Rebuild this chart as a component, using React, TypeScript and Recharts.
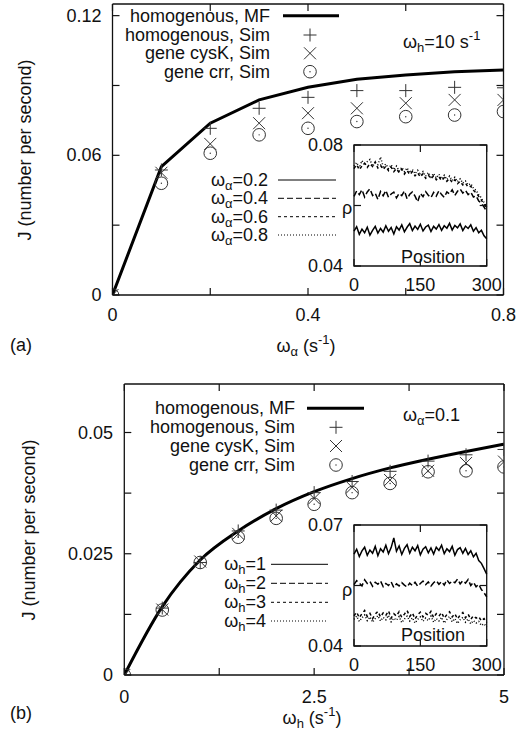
import React from "react";
import {
  ComposedChart,
  LineChart,
  Line,
  Scatter,
  XAxis,
  YAxis,
  ReferenceArea,
  Legend,
} from "recharts";

const FONT = '"Liberation Sans", Arial, Helvetica, sans-serif';
const INK = "#111";
const MARK = "#333";
const W = 532;

// panel (a): omega_h = 10 s^-1, flux vs omega_alpha
const omegaAlpha = [0, 0.1, 0.2, 0.3, 0.4, 0.5, 0.6, 0.7, 0.8];
const mfA = [0, 0.0551, 0.0738, 0.0838, 0.0892, 0.0927, 0.0945, 0.0959, 0.0967];
const homSimA = [0, 0.0537, 0.0716, 0.0802, 0.0849, 0.0878, 0.0878, 0.0892, 0.089];
const cysKA = [0, 0.0525, 0.0649, 0.0738, 0.0781, 0.0802, 0.0824, 0.0838, 0.0838];
const crrA = [0, 0.048, 0.0609, 0.0688, 0.0716, 0.0745, 0.0766, 0.0773, 0.0788];

// panel (b): omega_alpha = 0.1, flux vs omega_h
const omegaH = [0, 0.5, 1, 1.5, 2, 2.5, 3, 3.5, 4, 4.5, 5];
const mfB = [0, 0.0141, 0.0237, 0.0297, 0.0343, 0.0378, 0.0405, 0.0427, 0.0445, 0.0461, 0.0476];
const homSimB = [0, 0.0138, 0.0232, 0.0297, 0.034, 0.0376, 0.0399, 0.042, 0.0441, 0.0454, 0.0465];
const cysKB = [0, 0.0135, 0.0234, 0.0291, 0.0328, 0.0364, 0.0387, 0.0402, 0.0421, 0.0437, 0.044];
const crrB = [0, 0.0134, 0.0232, 0.0284, 0.0323, 0.0352, 0.0376, 0.0395, 0.0419, 0.0421, 0.0429];

const seriesNames = ["homogenous, MF", "homogenous, Sim", "gene cysK, Sim", "gene crr, Sim"];

// insets: density profile along the gene
const insetPos = [
  0, 6, 12, 18, 24, 30, 36, 42, 48, 54, 60, 66, 72, 78, 84, 90, 96, 102, 108, 114,
  120, 126, 132, 138, 144, 150, 156, 162, 168, 174, 180, 186, 192, 198, 204, 210,
  216, 222, 228, 234, 240, 246, 252, 258, 264, 270, 276, 282, 288, 294, 300,
];

const rhoA02 = [
  0.0515, 0.053, 0.0505, 0.0522, 0.051, 0.0528, 0.0502, 0.0518, 0.0531, 0.0509,
  0.0524, 0.0512, 0.0533, 0.0515, 0.0527, 0.0506, 0.053, 0.0519, 0.0536, 0.0513,
  0.0528, 0.054, 0.0517, 0.0532, 0.0521, 0.0538, 0.0516, 0.0529, 0.0535, 0.0514,
  0.0531, 0.0522, 0.0537, 0.0518, 0.0533, 0.0525, 0.0541, 0.0519, 0.0534, 0.0526,
  0.0539, 0.0517, 0.0532, 0.0524, 0.0536, 0.0515, 0.0527, 0.051, 0.0518, 0.05, 0.049,
];
const rhoA04 = [
  0.063, 0.0648, 0.0636, 0.0652, 0.0628, 0.0645, 0.0655, 0.0633, 0.0641, 0.062,
  0.0646, 0.0632, 0.065, 0.0627, 0.0638, 0.0644, 0.0625, 0.064, 0.0633, 0.0648,
  0.0622, 0.0637, 0.0645, 0.0631, 0.0612, 0.064, 0.0629, 0.0646, 0.0634, 0.0626,
  0.0643, 0.0631, 0.0649, 0.0636, 0.0627, 0.0645, 0.0638, 0.0652, 0.0633, 0.0647,
  0.0655, 0.0641, 0.065, 0.0636, 0.0644, 0.0628, 0.0632, 0.0615, 0.0608, 0.0595, 0.058,
];
const rhoA06 = [
  0.0722, 0.0735, 0.0718, 0.0731, 0.074, 0.0726, 0.0738, 0.0729, 0.0744, 0.0724,
  0.0733, 0.0719, 0.073, 0.0715, 0.0727, 0.0712, 0.0722, 0.0709, 0.072, 0.0704,
  0.0716, 0.0702, 0.0712, 0.0698, 0.0708, 0.0694, 0.0705, 0.069, 0.0701, 0.0688,
  0.0698, 0.0685, 0.0695, 0.0682, 0.0692, 0.068, 0.0689, 0.0676, 0.0685, 0.0672,
  0.068, 0.0668, 0.0674, 0.066, 0.0664, 0.065, 0.0642, 0.063, 0.0618, 0.0604, 0.059,
];
const rhoA08 = [
  0.073, 0.0742, 0.0725, 0.0748, 0.0733, 0.0745, 0.0752, 0.073, 0.0741, 0.0735,
  0.076, 0.0728, 0.0737, 0.0722, 0.0735, 0.0718, 0.073, 0.0714, 0.0726, 0.0712,
  0.0724, 0.0708, 0.0719, 0.0705, 0.0716, 0.0701, 0.0712, 0.0697, 0.0709, 0.0694,
  0.0706, 0.0691, 0.0703, 0.0688, 0.07, 0.0686, 0.0697, 0.0683, 0.0693, 0.0679,
  0.0688, 0.0674, 0.0681, 0.0668, 0.0672, 0.0657, 0.065, 0.0636, 0.0625, 0.061, 0.0595,
];

const rhoB1 = [
  0.0628, 0.064, 0.0622, 0.0636, 0.0645, 0.0625, 0.0638, 0.063, 0.0647, 0.0624,
  0.0641, 0.0633, 0.065, 0.0629, 0.0644, 0.0668, 0.0635, 0.0648, 0.0627, 0.0642,
  0.0651, 0.063, 0.0645, 0.0636, 0.0649, 0.0626, 0.064, 0.0646, 0.0631, 0.0643,
  0.0628, 0.0645, 0.0637, 0.065, 0.0629, 0.0641, 0.0634, 0.0647, 0.0625, 0.0639,
  0.0644, 0.063, 0.0642, 0.0627, 0.0636, 0.0621, 0.063, 0.0612, 0.0605, 0.0592, 0.0578,
];
const rhoB2 = [
  0.0552, 0.0562, 0.0556, 0.0549, 0.0564, 0.0555, 0.056, 0.0548, 0.0558, 0.0553,
  0.0561, 0.0547, 0.0555, 0.055, 0.0559, 0.0545, 0.0554, 0.0549, 0.0557, 0.0551,
  0.0546, 0.0556, 0.055, 0.0558, 0.0548, 0.0555, 0.0561, 0.0552, 0.0559, 0.0549,
  0.0557, 0.0562, 0.0553, 0.056, 0.0551, 0.0564, 0.0555, 0.0561, 0.0557, 0.0566,
  0.0554, 0.0562, 0.0556, 0.0565, 0.055, 0.0558, 0.0547, 0.0553, 0.054, 0.0532, 0.0522,
];
const rhoB3 = [
  0.0475, 0.0484, 0.047, 0.048, 0.0488, 0.0473, 0.0481, 0.0468, 0.0479, 0.0486,
  0.0472, 0.0482, 0.0476, 0.0487, 0.0469, 0.048, 0.0474, 0.0485, 0.0471, 0.0479,
  0.0488, 0.0473, 0.0482, 0.0467, 0.0478, 0.0484, 0.0472, 0.0481, 0.0476, 0.0486,
  0.047, 0.048, 0.0474, 0.0483, 0.0469, 0.0478, 0.0485, 0.0472, 0.048, 0.0467,
  0.0477, 0.0483, 0.047, 0.0479, 0.0466, 0.0475, 0.0469, 0.0473, 0.0462, 0.0468, 0.0458,
];
const rhoB4 = [
  0.0466, 0.0474, 0.0461, 0.047, 0.0477, 0.0463, 0.0472, 0.0459, 0.0468, 0.0475,
  0.0462, 0.0471, 0.0465, 0.0476, 0.046, 0.0469, 0.0464, 0.0473, 0.0458, 0.0467,
  0.0474, 0.0462, 0.047, 0.0457, 0.0466, 0.0472, 0.0461, 0.0469, 0.0463, 0.0474,
  0.0459, 0.0468, 0.0462, 0.0471, 0.0457, 0.0466, 0.0473, 0.046, 0.0468, 0.0456,
  0.0465, 0.0471, 0.0459, 0.0467, 0.0455, 0.0463, 0.0457, 0.0461, 0.0451, 0.0455, 0.0447,
];

const insetParamsA = ["0.2", "0.4", "0.6", "0.8"];
const insetParamsB = ["1", "2", "3", "4"];
const insetDashes = ["0", "6 3", "3 3", "1 2"];

type Box = { l: number; r: number; t: number; b: number };

// markers drawn the gnuplot way
const Plus = ({ cx, cy }: any) => (
  <path d={`M${cx - 6.5},${cy}h13M${cx},${cy - 6.5}v13`} stroke={MARK} strokeWidth={1} fill="none" />
);
const Cross = ({ cx, cy }: any) => (
  <path d={`M${cx - 6},${cy - 6}l12,12M${cx - 6},${cy + 6}l12,-12`} stroke={MARK} strokeWidth={1} fill="none" />
);
const Ring = ({ cx, cy }: any) => (
  <g>
    <circle cx={cx} cy={cy} r={6.3} stroke={MARK} strokeWidth={1} fill="none" />
    <circle cx={cx} cy={cy} r={0.7} fill={MARK} />
  </g>
);
const markers = [Plus, Cross, Ring];

const txt = { fontFamily: FONT, fontSize: 18, fill: INK } as const;
const frame = { stroke: INK, strokeWidth: 1.3 };
const noTick = () => <g />;

function MainLegend({ rowY, textRight, lineX, markX }: { rowY: number[]; textRight: number; lineX: [number, number]; markX: number }) {
  return (
    <svg width={W} height={400} style={{ position: "absolute", left: 0, top: 0, overflow: "visible" }}>
      {seriesNames.map((name, i) => (
        <g key={name}>
          <text x={textRight} y={rowY[i]} textAnchor="end" dominantBaseline="central" {...txt}>
            {name}
          </text>
          {i === 0 ? (
            <line x1={lineX[0]} x2={lineX[1]} y1={rowY[i]} y2={rowY[i]} stroke="#000" strokeWidth={3} />
          ) : (
            React.createElement(markers[i - 1], { cx: markX, cy: rowY[i] })
          )}
        </g>
      ))}
    </svg>
  );
}

function InsetLegend({ sym, params, rowY, textRight, lineX }: { sym: string; params: string[]; rowY: number[]; textRight: number; lineX: [number, number] }) {
  return (
    <svg width={W} height={400} style={{ position: "absolute", left: 0, top: 0, overflow: "visible" }}>
      {params.map((p, i) => (
        <g key={p}>
          <text x={textRight} y={rowY[i]} textAnchor="end" dominantBaseline="central" {...txt}>
            ω<tspan dy={5} fontSize={13}>{sym}</tspan>
            <tspan dy={-5}>={p}</tspan>
          </text>
          <line x1={lineX[0]} x2={lineX[1]} y1={rowY[i]} y2={rowY[i]} stroke="#000" strokeWidth={1} strokeDasharray={insetDashes[i]} />
        </g>
      ))}
    </svg>
  );
}

function MainPanel(props: {
  xs: number[]; mf: number[]; hom: number[]; cys: number[]; crr: number[];
  height: number; box: Box; curve: "linear" | "monotone";
  xDomain: [number, number]; xTicks: number[]; xLabels: string[];
  yDomain: [number, number]; yTicks: number[]; yLabels: string[];
  xLabelY: number; yLabelRight: number;
  legend: { rowY: number[]; textRight: number; lineX: [number, number]; markX: number };
}) {
  const { xs, box, height } = props;
  const rows = xs.map((x, i) => ({ x, mf: props.mf[i], hom: props.hom[i], cys: props.cys[i], crr: props.crr[i] }));

  const XTick = (p: any) => {
    const i = props.xTicks.indexOf(p.payload.value);
    return (
      <g>
        <line x1={p.x} x2={p.x} y1={box.b} y2={box.b - 7} stroke={INK} strokeWidth={1.2} />
        <line x1={p.x} x2={p.x} y1={box.t} y2={box.t + 7} stroke={INK} strokeWidth={1.2} />
        <text x={p.x} y={props.xLabelY} textAnchor="middle" dominantBaseline="central" {...txt}>
          {props.xLabels[i]}
        </text>
      </g>
    );
  };
  const YTick = (p: any) => {
    const i = props.yTicks.indexOf(p.payload.value);
    return (
      <g>
        <line x1={box.l} x2={box.l + 7} y1={p.y} y2={p.y} stroke={INK} strokeWidth={1.2} />
        <line x1={box.r} x2={box.r - 7} y1={p.y} y2={p.y} stroke={INK} strokeWidth={1.2} />
        <text x={props.yLabelRight} y={p.y} textAnchor="end" dominantBaseline="central" {...txt}>
          {props.yLabels[i]}
        </text>
      </g>
    );
  };

  return (
    <ComposedChart
      width={W}
      height={height}
      data={rows}
      margin={{ top: box.t - 1, right: W - box.r - 1, bottom: height - box.b - 1, left: box.l - 1 }}
    >
      <XAxis dataKey="x" type="number" domain={props.xDomain} ticks={props.xTicks} interval={0} height={1} axisLine={frame} tickLine={false} tick={XTick} allowDataOverflow />
      <XAxis xAxisId="top" orientation="top" type="number" domain={props.xDomain} ticks={props.xTicks} interval={0} height={1} axisLine={frame} tickLine={false} tick={noTick} allowDataOverflow />
      <YAxis type="number" domain={props.yDomain} ticks={props.yTicks} interval={0} width={1} axisLine={frame} tickLine={false} tick={YTick} allowDataOverflow />
      <YAxis yAxisId="right" orientation="right" type="number" domain={props.yDomain} ticks={props.yTicks} interval={0} width={1} axisLine={frame} tickLine={false} tick={noTick} allowDataOverflow />
      <Line dataKey="mf" name={seriesNames[0]} type={props.curve} stroke="#000" strokeWidth={3} dot={false} isAnimationActive={false} />
      <Scatter dataKey="hom" name={seriesNames[1]} shape={Plus} isAnimationActive={false} />
      <Scatter dataKey="cys" name={seriesNames[2]} shape={Cross} isAnimationActive={false} />
      <Scatter dataKey="crr" name={seriesNames[3]} shape={Ring} isAnimationActive={false} />
      <Legend
        verticalAlign="middle"
        align="center"
        layout="horizontal"
        wrapperStyle={{ left: 0, top: 0, width: W, height, pointerEvents: "none" }}
        content={() => <MainLegend {...props.legend} />}
      />
    </ComposedChart>
  );
}

function InsetPanel(props: {
  series: number[][]; height: number; box: Box;
  yDomain: [number, number]; yTicks: number[]; yLabels: string[];
  xLabelY: number;
  legend: { sym: string; params: string[]; rowY: number[]; textRight: number; lineX: [number, number] };
}) {
  const { box, height } = props;
  const rows = insetPos.map((x, i) => ({ x, s0: props.series[0][i], s1: props.series[1][i], s2: props.series[2][i], s3: props.series[3][i] }));
  const xTicks = [0, 150, 300];

  const XTick = (p: any) => (
    <g>
      <line x1={p.x} x2={p.x} y1={box.b} y2={box.b - 7} stroke={INK} strokeWidth={1.2} />
      <line x1={p.x} x2={p.x} y1={box.t} y2={box.t + 7} stroke={INK} strokeWidth={1.2} />
      <text x={p.x} y={props.xLabelY} textAnchor="middle" dominantBaseline="central" {...txt}>
        {p.payload.value}
      </text>
    </g>
  );
  const YTick = (p: any) => {
    const i = props.yTicks.indexOf(p.payload.value);
    return (
      <g>
        <line x1={box.l} x2={box.l + 7} y1={p.y} y2={p.y} stroke={INK} strokeWidth={1.2} />
        <line x1={box.r} x2={box.r - 7} y1={p.y} y2={p.y} stroke={INK} strokeWidth={1.2} />
        <text x={box.l - 11} y={p.y} textAnchor="end" dominantBaseline="central" {...txt}>
          {props.yLabels[i]}
        </text>
      </g>
    );
  };

  return (
    <LineChart
      width={W}
      height={height}
      data={rows}
      margin={{ top: box.t, right: W - box.r, bottom: height - box.b - 1, left: box.l - 1 }}
    >
      <XAxis dataKey="x" type="number" domain={[0, 300]} ticks={xTicks} interval={0} height={1} axisLine={false} tickLine={false} tick={XTick} />
      <YAxis type="number" domain={props.yDomain} ticks={props.yTicks} interval={0} width={1} axisLine={false} tickLine={false} tick={YTick} allowDataOverflow />
      <ReferenceArea x1={0} x2={300} y1={props.yDomain[0]} y2={props.yDomain[1]} fill="#fff" fillOpacity={1} stroke={INK} strokeWidth={1.3} />
      {[0, 1, 2, 3].map((k) => (
        <Line
          key={k}
          dataKey={`s${k}`}
          type="linear"
          stroke="#000"
          strokeWidth={1.5}
          strokeDasharray={insetDashes[k]}
          dot={false}
          isAnimationActive={false}
        />
      ))}
      <Legend
        verticalAlign="middle"
        align="center"
        layout="horizontal"
        wrapperStyle={{ left: 0, top: 0, width: W, height, pointerEvents: "none" }}
        content={() => <InsetLegend {...props.legend} />}
      />
    </LineChart>
  );
}

const layer = { position: "absolute", left: 0, top: 0 } as const;

export default function App() {
  const boxA: Box = { l: 112.5, r: 503.5, t: 4, b: 295 };
  const boxB: Box = { l: 124.3, r: 504, t: 14, b: 305 };
  const insetA: Box = { l: 354, r: 486.7, t: 145, b: 266 };
  const insetB: Box = { l: 354, r: 486.7, t: 155, b: 276 };

  return (
    <div style={{ position: "absolute", left: 0, top: 0, width: W, height: 739, background: "#fff" }}>
      {/* panel (a) */}
      <div style={{ ...layer, top: 0, width: W, height: 370 }}>
        <div style={layer}>
          <MainPanel
            xs={omegaAlpha} mf={mfA} hom={homSimA} cys={cysKA} crr={crrA}
            height={370} box={boxA} curve="linear"
            xDomain={[0, 0.8]} xTicks={[0, 0.2, 0.4, 0.6, 0.8]} xLabels={["0", "", "0.4", "", "0.8"]}
            yDomain={[0, 0.125]} yTicks={[0, 0.03, 0.06, 0.09, 0.12]} yLabels={["0", "", "0.06", "", "0.12"]}
            xLabelY={315} yLabelRight={101.5}
            legend={{ rowY: [15.7, 35, 53.3, 71.7], textRight: 270, lineX: [283, 339], markX: 310 }}
          />
        </div>
        <div style={layer}>
          <InsetPanel
            series={[rhoA02, rhoA04, rhoA06, rhoA08]} height={370} box={insetA}
            yDomain={[0.04, 0.08]} yTicks={[0.04, 0.06, 0.08]} yLabels={["0.04", "", "0.08"]}
            xLabelY={285}
            legend={{ sym: "α", params: insetParamsA, rowY: [180, 198.3, 216.7, 235], textRight: 268, lineX: [278, 336] }}
          />
        </div>
        <svg width={W} height={370} style={{ ...layer, pointerEvents: "none" }}>
          <text transform="translate(25,150) rotate(-90)" textAnchor="middle" dominantBaseline="central" {...txt}>
            J (number per second)
          </text>
          <text x={306} y={346} textAnchor="middle" dominantBaseline="central" {...txt}>
            ω<tspan dy={5} fontSize={13}>α</tspan>
            <tspan dy={-5}> (s</tspan>
            <tspan dy={-7} fontSize={13}>-1</tspan>
            <tspan dy={7}>)</tspan>
          </text>
          <text x={10} y={345} dominantBaseline="central" {...txt}>(a)</text>
          <text x={403} y={42} dominantBaseline="central" {...txt}>
            ω<tspan dy={5} fontSize={13}>h</tspan>
            <tspan dy={-5}>=10 s</tspan>
            <tspan dy={-7} fontSize={13}>-1</tspan>
          </text>
          <text x={347} y={208} textAnchor="middle" dominantBaseline="central" {...txt}>ρ</text>
          <text x={433} y={257} textAnchor="middle" dominantBaseline="central" {...txt}>Position</text>
        </svg>
      </div>

      {/* panel (b) */}
      <div style={{ ...layer, top: 370, width: W, height: 369 }}>
        <div style={layer}>
          <MainPanel
            xs={omegaH} mf={mfB} hom={homSimB} cys={cysKB} crr={crrB}
            height={369} box={boxB} curve="monotone"
            xDomain={[0, 5]} xTicks={[0, 1.25, 2.5, 3.75, 5]} xLabels={["0", "", "2.5", "", "5"]}
            yDomain={[0, 0.06]} yTicks={[0, 0.0125, 0.025, 0.0375, 0.05]} yLabels={["0", "", "0.025", "", "0.05"]}
            xLabelY={327} yLabelRight={113}
            legend={{ rowY: [38.3, 57.3, 76, 95], textRight: 295, lineX: [307, 364], markX: 336 }}
          />
        </div>
        <div style={layer}>
          <InsetPanel
            series={[rhoB1, rhoB2, rhoB3, rhoB4]} height={369} box={insetB}
            yDomain={[0.04, 0.07]} yTicks={[0.04, 0.055, 0.07]} yLabels={["0.04", "", "0.07"]}
            xLabelY={295}
            legend={{ sym: "h", params: insetParamsB, rowY: [194.3, 213.3, 232.3, 251], textRight: 266, lineX: [271, 328] }}
          />
        </div>
        <svg width={W} height={369} style={{ ...layer, pointerEvents: "none" }}>
          <text transform="translate(29,160) rotate(-90)" textAnchor="middle" dominantBaseline="central" {...txt}>
            J (number per second)
          </text>
          <text x={312} y={348} textAnchor="middle" dominantBaseline="central" {...txt}>
            ω<tspan dy={5} fontSize={13}>h</tspan>
            <tspan dy={-5}> (s</tspan>
            <tspan dy={-7} fontSize={13}>-1</tspan>
            <tspan dy={7}>)</tspan>
          </text>
          <text x={10} y={343} dominantBaseline="central" {...txt}>(b)</text>
          <text x={403} y={45} dominantBaseline="central" {...txt}>
            ω<tspan dy={5} fontSize={13}>α</tspan>
            <tspan dy={-5}>=0.1</tspan>
          </text>
          <text x={347} y={220} textAnchor="middle" dominantBaseline="central" {...txt}>ρ</text>
          <text x={433} y={265} textAnchor="middle" dominantBaseline="central" {...txt}>Position</text>
        </svg>
      </div>
    </div>
  );
}
